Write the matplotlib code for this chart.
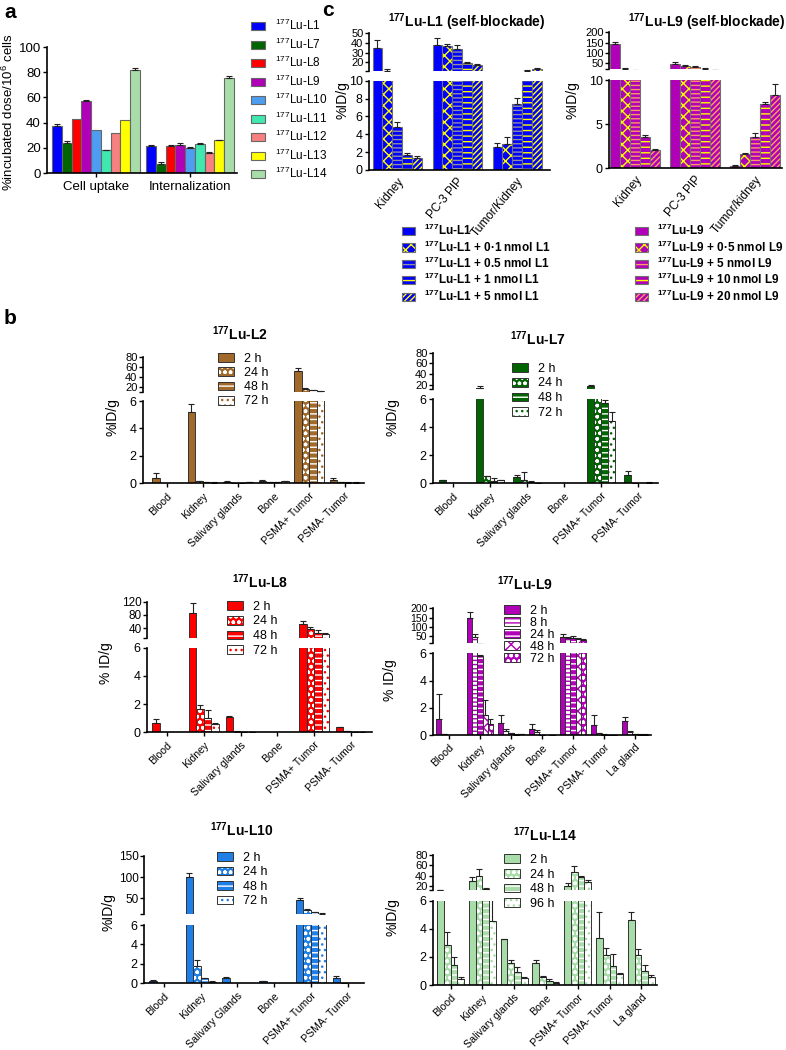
import numpy as np
import matplotlib
matplotlib.use('Agg')
import matplotlib.pyplot as plt
from matplotlib.patches import Patch

plt.rcParams['font.family'] = ['Liberation Sans', 'DejaVu Sans']
plt.rcParams['mathtext.fontset'] = 'custom'
plt.rcParams['mathtext.rm'] = 'Liberation Sans'
plt.rcParams['mathtext.bf'] = 'Liberation Sans:bold'
plt.rcParams['mathtext.default'] = 'regular'
plt.rcParams['hatch.linewidth'] = 1.0

# ---------------- data ----------------
# panel a: cell uptake / internalization
a_groups = ['Cell uptake', 'Internalization']
a_compounds = ['L1', 'L7', 'L8', 'L9', 'L10', 'L11', 'L12', 'L13', 'L14']
a_colors = ['#0000ff', '#006400', '#ff0000', '#b000b8', '#4d9ef0',
            '#40e8b0', '#f88080', '#ffff00', '#a8dca8']
a_uptake = [37, 24, 43, 57, 34, 18, 32, 42, 82]
a_uptake_err = [1.5, 1.5, 0, 1.2, 0, 0.5, 0, 0, 1.2]
a_intern = [21.5, 7, 21.5, 22, 20, 23, 16, 26, 75.5]
a_intern_err = [1, 1.5, 1, 2, 0.5, 1.2, 0.5, 0.5, 1.5]

# panel c: self-blockade
c1_cats = ['Kidney', 'PC-3 PIP', 'Tumor/Kidney']
c1_labels = ['$^{177}$Lu-L1', '$^{177}$Lu-L1 + 0·1 nmol L1', '$^{177}$Lu-L1 + 0.5 nmol L1',
             '$^{177}$Lu-L1 + 1 nmol L1', '$^{177}$Lu-L1 + 5 nmol L1']
c1_vals = [[35, 38, 2.6], [11.5, 37, 2.9], [4.8, 34, 7.4], [1.7, 19, 11.5], [1.3, 17, 13]]
c1_errs = [[8, 7, 0.45], [1.5, 2, 0.75], [0.6, 4, 0.7], [0.25, 1, 0.8], [0.25, 1, 1.5]]

c9_cats = ['Kidney', 'PC-3 PIP', 'Tumor/kidney']
c9_labels = ['$^{177}$Lu-L9', '$^{177}$Lu-L9 + 0·5 nmol L9', '$^{177}$Lu-L9 + 5 nmol L9',
             '$^{177}$Lu-L9 + 10 nmol L9', '$^{177}$Lu-L9 + 20 nmol L9']
c9_vals = [[145, 45, 0.3], [23, 37, 1.6], [15, 33, 3.5], [3.5, 24, 7.3], [2.1, 18, 8.3]]
c9_errs = [[10, 10, 0.05], [2, 4, 0.15], [1, 5, 0.5], [0.3, 2, 0.25], [0.1, 1, 1.2]]

# panel b: biodistribution
organs6 = ['Blood', 'Kidney', 'Salivary glands', 'Bone', 'PSMA+ Tumor', 'PSMA- Tumor']
organs6_cap = ['Blood', 'Kidney', 'Salivary Glands', 'Bone', 'PSMA+ Tumor', 'PSMA- Tumor']
organs7 = organs6 + ['La gland']
times4 = ['2 h', '24 h', '48 h', '72 h']
times5 = ['2 h', '8 h', '24 h', '48 h', '72 h']
times4b = ['2 h', '24 h', '48 h', '96 h']

l2_vals = [[0.35, 5.2, 0.12, 0.2, 52, 0.25], [0, 0.15, 0.03, 0.1, 16, 0.08],
           [0, 0.08, 0.02, 0.1, 13, 0.05], [0, 0.05, 0.08, 0.15, 11, 0.05]]
l2_errs = [[0.4, 0.55, 0.03, 0.05, 7, 0.1], [0, 0.03, 0.01, 0.02, 2, 0.02],
           [0, 0.02, 0.01, 0.02, 1, 0.01], [0, 0.01, 0.02, 0.03, 1, 0.01]]

l7_vals = [[0.2, 15, 0.45, 0, 18.5, 0.6], [0, 0.5, 0.25, 0, 6.5, 0.03],
           [0, 0.15, 0.1, 0, 5.7, 0], [0, 0.2, 0.03, 0, 4.4, 0.05]]
l7_errs = [[0.05, 3, 0.15, 0, 1, 0.3], [0, 0.05, 0.55, 0, 0, 0.01],
           [0, 0.2, 0.05, 0, 0.25, 0], [0, 0.05, 0.02, 0, 0.65, 0.04]]

l8_vals = [[0.65, 85, 1.08, 0, 52, 0.35], [0, 1.65, 0.05, 0, 38, 0.08],
           [0, 1.0, 0.03, 0, 25, 0.03], [0, 0.6, 0.03, 0, 21, 0.03]]
l8_errs = [[0.3, 30, 0.08, 0, 8, 0.05], [0, 0.3, 0.01, 0, 6, 0.02],
           [0, 0.6, 0.01, 0, 8, 0.01], [0, 0.05, 0.01, 0, 3, 0.01]]

l9_vals = [[1.2, 148, 0.85, 0.45, 45, 0.7, 1.0], [0.05, 45, 0.3, 0.22, 38, 0.12, 0.25],
           [0, 5.8, 0.12, 0.02, 42, 0.03, 0.08], [0, 1.5, 0.03, 0, 35, 0.02, 0.03],
           [0, 0.8, 0.07, 0.02, 28, 0.02, 0.03]]
l9_errs = [[1.8, 30, 0.65, 0.35, 15, 0.8, 0.3], [0.01, 18, 0.15, 0.15, 8, 0.02, 0.05],
           [0, 0.1, 0.05, 0.01, 8, 0.01, 0.02], [0, 1.05, 0.01, 0, 5, 0.01, 0.01],
           [0, 0.4, 0.03, 0.01, 6, 0.01, 0.01]]

l10_vals = [[0.28, 100, 0.55, 0.22, 45, 0.5], [0, 1.75, 0, 0, 22, 0.03],
            [0, 0.5, 0, 0, 17, 0], [0, 0.15, 0, 0, 13.5, 0]]
l10_errs = [[0.05, 10, 0.05, 0.03, 5, 0.25], [0, 0.6, 0, 0, 3, 0.01],
            [0, 0.05, 0, 0, 2, 0], [0, 0.05, 0, 0, 1, 0]]

l14_vals = [[12.8, 30, 3.25, 1.55, 20, 3.35, 4.6], [2.85, 40, 1.55, 0.55, 48, 2.1, 2.1],
            [1.45, 14, 0.9, 0.3, 37, 1.35, 1.0], [0.45, 4.55, 0.5, 0.15, 27, 0.75, 0.6]]
l14_errs = [[0.3, 8, 0.05, 0.2, 5, 1.85, 0.6], [0.9, 12, 0.2, 0.1, 10, 0.5, 0.45],
            [0.55, 2, 0.35, 0.1, 3, 0.85, 0.4], [0.15, 3, 0.1, 0.03, 5, 0.1, 0.1]]

# ---------------- helpers ----------------
W, H = 786, 1050
fig = plt.figure(figsize=(W / 100, H / 100), dpi=100)


def px_axes(x0, x1, y0, y1):
    return fig.add_axes([x0 / W, 1 - y1 / H, (x1 - x0) / W, (y1 - y0) / H])


def style(ax, bottom=True):
    ax.spines['top'].set_visible(False)
    ax.spines['right'].set_visible(False)
    ax.spines['left'].set_linewidth(1.2)
    ax.spines['bottom'].set_linewidth(1.2)
    if not bottom:
        ax.spines['bottom'].set_visible(False)
        ax.tick_params(axis='x', bottom=False, labelbottom=False)
    ax.tick_params(direction='out', length=3, width=1, pad=1.5)
    ax.patch.set_alpha(0)


def draw_bars(axs, x, h, w, face, hatch, hcol, edge='#333333', lw=0.7):
    for ax in axs:
        ax.bar(x, h, w, color=face, linewidth=0)
        if hatch:
            ax.bar(x, h, w, color='none', edgecolor=hcol, hatch=hatch, linewidth=0)
        ax.bar(x, h, w, color='none', edgecolor=edge, linewidth=lw)


def draw_err(axs, x, h, e, col='#222222'):
    x, h, e = np.asarray(x, float), np.asarray(h, float), np.asarray(e, float)
    m = e > 0
    for ax in axs:
        ax.errorbar(x[m], h[m], yerr=[np.zeros(m.sum()), e[m]], fmt='none',
                    ecolor=col, elinewidth=0.8, capsize=2, capthick=0.8)


def handle(face, hatch, hcol, edge='#333333', lw=0.7):
    parts = [Patch(facecolor=face, linewidth=0)]
    if hatch:
        parts.append(Patch(facecolor='none', edgecolor=hcol, hatch=hatch, linewidth=0))
    parts.append(Patch(facecolor='none', edgecolor=edge, linewidth=lw))
    return tuple(parts)


def fig_legend(handles, labels, x, y, fs, spacing, hl=1.2, bold=False):
    rowh = fs * 100 / 72
    fig.legend(handles, labels, loc='upper left',
               bbox_to_anchor=(x / W, 1 - (y - rowh / 2 - 1) / H),
               frameon=False, handlelength=hl, handleheight=0.7,
               labelspacing=spacing, handletextpad=0.8,
               borderpad=0, borderaxespad=0,
               prop={'size': fs, 'weight': 'bold' if bold else 'normal'})


def ftext(x, y, s, **kw):
    fig.text(x / W, 1 - y / H, s, **kw)


# ---------------- panel a ----------------
ax = px_axes(47, 237, 47, 173)
style(ax)
sp = 94.0
bw = 9.7 / sp
xg = np.arange(len(a_groups))
n = len(a_compounds)
for i in range(n):
    xs = xg + (i - (n - 1) / 2) * bw
    hs = [a_uptake[i], a_intern[i]]
    es = [a_uptake_err[i], a_intern_err[i]]
    draw_bars([ax], xs, hs, bw, a_colors[i], None, None, edge='#666666', lw=0.8)
    draw_err([ax], xs, hs, es)
ax.set_xlim((47 - 96) / sp, (237 - 96) / sp)
ax.set_ylim(0, 100)
ax.set_yticks([0, 20, 40, 60, 80, 100])
ax.set_xticks(xg)
ax.set_xticklabels(a_groups, fontsize=9.5)
ax.tick_params(axis='y', labelsize=9.5)
ax.tick_params(axis='x', pad=3)
ftext(8, 112, '%incubated dose/10$^6$ cells', rotation=90, ha='center', va='center', fontsize=9.5)
a_handles = [handle(c, None, None, edge='#666666', lw=0.8) for c in a_colors]
fig_legend(a_handles, ['$^{177}$Lu-' + c for c in a_compounds], 251, 25, 8.5, 0.28, hl=1.2)

# ---------------- panel c ----------------
c1_styles = [('#0000ff', None, None), ('#0000ff', 'xxx', '#ffff00'),
             ('#0000ff', '----', '#9090a0'), ('#0000ff', '---', '#ffff00'),
             ('#0000ff', '//////', '#ffff00')]
c9_styles = [('#b000b8', None, None), ('#b000b8', 'xxx', '#ffff00'),
             ('#b000b8', '----', '#ff9966'), ('#b000b8', '---', '#ffff00'),
             ('#b000b8', '//////', '#ffa060')]


def self_block(cats, vals, errs, styles, labels, g):
    axt = px_axes(g['x0'], g['x1'], g['yt0'], g['yt1'])
    axb = px_axes(g['x0'], g['x1'], g['yb0'], g['yb1'])
    style(axt, bottom=False)
    style(axb)
    sp = g['sp']
    bw = g['gw'] / len(vals) / sp
    xg = np.arange(len(cats))
    for i, (v, e, st) in enumerate(zip(vals, errs, styles)):
        xs = xg + (i - (len(vals) - 1) / 2) * bw
        draw_bars([axt, axb], xs, v, bw, st[0], st[1], st[2], edge='#707070', lw=0.8)
        draw_err([axt, axb], xs, v, e)
    for a in (axt, axb):
        a.set_xlim((g['x0'] - g['c0']) / sp, (g['x1'] - g['c0']) / sp)
    axt.set_ylim(*g['top'])
    axt.set_yticks([g['top'][0]] + g['tticks'])
    axt.set_yticklabels([''] + [str(t) for t in g['tticks']])
    axb.set_ylim(0, g['bmax'])
    axb.set_yticks(g['bticks'])
    axt.tick_params(axis='y', labelsize=8, pad=1)
    axb.tick_params(axis='y', labelsize=9)
    axb.set_xticks(xg)
    axb.set_xticklabels(cats, rotation=50, ha='right', rotation_mode='anchor', fontsize=8.5)
    axb.tick_params(axis='x', length=0, pad=4)
    hs = [handle(st[0], st[1], st[2], edge='#707070', lw=0.8) for st in styles]
    fig_legend(hs, labels, g['lx'], g['ly'], 8.5, 0.1, hl=1.1, bold=True)


self_block(c1_cats, c1_vals, c1_errs, c1_styles, c1_labels,
           dict(x0=369, x1=550, yt0=33.3, yt1=71, yb0=80.7, yb1=170, c0=397, sp=60, gw=49,
                top=(11, 50), tticks=[20, 30, 40, 50], bmax=10, bticks=[0, 2, 4, 6, 8, 10],
                lx=402, ly=230))
self_block(c9_cats, c9_vals, c9_errs, c9_styles, c9_labels,
           dict(x0=609, x1=782, yt0=32.3, yt1=69.3, yb0=80, yb1=168.3, c0=635, sp=60, gw=50,
                top=(21, 200), tticks=[50, 100, 150, 200], bmax=10, bticks=[0, 5, 10],
                lx=635, ly=230))
ftext(467, 22, r'$^{\mathbf{177}}$Lu-L1 (self-blockade)', ha='center', va='center',
      fontsize=10, fontweight='bold')
ftext(707, 22, r'$^{\mathbf{177}}$Lu-L9 (self-blockade)', ha='center', va='center',
      fontsize=10, fontweight='bold')
ftext(342, 100, '%ID/g', rotation=90, ha='center', va='center', fontsize=10)
ftext(573, 100, '%ID/g', rotation=90, ha='center', va='center', fontsize=10)

# ---------------- panel b ----------------


def styles4(c):
    return [(c, None, None), (c, 'ooo', 'white'), (c, '---', 'white'), ('white', '...', c)]


def styles5(c):
    return [(c, None, None), ('white', '----', c), (c, '---', 'white'),
            ('white', 'xxx', c), (c, 'ooo', 'white')]


def biodist(title, cats, times, vals, errs, styles, g):
    axt = px_axes(g['x0'], g['x1'], g['yt0'], g['yt1'])
    axb = px_axes(g['x0'], g['x1'], g['yb0'], g['yb1'])
    style(axt, bottom=False)
    style(axb)
    sp = g['sp']
    bw = g['gw'] / len(vals) / sp
    xg = np.arange(len(cats))
    for i, (v, e, st) in enumerate(zip(vals, errs, styles)):
        xs = xg + (i - (len(vals) - 1) / 2) * bw
        draw_bars([axt, axb], xs, v, bw, st[0], st[1], st[2])
        draw_err([axt, axb], xs, v, e)
    for a in (axt, axb):
        a.set_xlim((g['x0'] - g['c0']) / sp, (g['x1'] - g['c0']) / sp)
    axb.tick_params(axis='y', labelsize=9)
    axt.tick_params(axis='y', labelsize=g.get('tfs', 8.5), pad=1)
    axt.set_ylim(*g['top'])
    axt.set_yticks([g['top'][0]] + g['tticks'])
    axt.set_yticklabels([''] + [str(t) for t in g['tticks']])
    axb.set_ylim(0, 6)
    axb.set_yticks([0, 2, 4, 6])
    axb.set_xticks(xg)
    axb.set_xticklabels(cats, rotation=45, ha='right', rotation_mode='anchor', fontsize=7.6)
    axb.tick_params(axis='x', pad=2.5)
    ftext(g['tx'], g['ty'], title, ha='center', va='center', fontsize=10, fontweight='bold')
    ftext(g['ylx'], g['yly'], g['ylab'], rotation=90, ha='center', va='center', fontsize=10)
    hs = [handle(*st) for st in styles]
    fig_legend(hs, times, g['lx'], g['ly'], 9, g['lsp'], hl=1.3)


biodist(r'$^{\mathbf{177}}$Lu-L2', organs6, times4, l2_vals, l2_errs, styles4('#a26a2a'),
        dict(x0=143, x1=364, yt0=357.3, yt1=392, yb0=401, yb1=483.3, c0=167, sp=35.5, gw=30,
             top=(9, 80), tticks=[20, 40, 60, 80], tfs=8, tx=240, ty=334, ylx=113, yly=417,
             ylab='%ID/g', lx=218, ly=360, lsp=0.18))
biodist(r'$^{\mathbf{177}}$Lu-L7', organs6, times4, l7_vals, l7_errs, styles4('#006400'),
        dict(x0=433, x1=658, yt0=352.7, yt1=389.3, yb0=399, yb1=483.3, c0=453, sp=37, gw=28,
             top=(12, 80), tticks=[20, 40, 60, 80], tfs=8, tx=538, ty=339, ylx=392, yly=417,
             ylab='%ID/g', lx=512, ly=370, lsp=0.22))
biodist(r'$^{\mathbf{177}}$Lu-L8', organs6, times4, l8_vals, l8_errs, styles4('#ff0000'),
        dict(x0=147, x1=372, yt0=601.7, yt1=637.7, yb0=647.7, yb1=732.3, c0=167, sp=36.8, gw=30,
             top=(10.5, 120), tticks=[40, 80, 120], tx=260, ty=582, ylx=106, yly=663,
             ylab='% ID/g', lx=227, ly=608, lsp=0.22))
biodist(r'$^{\mathbf{177}}$Lu-L9', organs7, times5, l9_vals, l9_errs, styles5('#b000b8'),
        dict(x0=433, x1=651, yt0=608.3, yt1=642.7, yb0=653.3, yb1=735, c0=449, sp=31, gw=26,
             top=(14, 200), tticks=[50, 100, 150, 200], tfs=7.5, tx=525, ty=584, ylx=390, yly=680,
             ylab='% ID/g', lx=504, ly=612, lsp=0.0))
biodist(r'$^{\mathbf{177}}$Lu-L10', organs6_cap, times4, l10_vals, l10_errs, styles4('#1f7fe6'),
        dict(x0=144, x1=364, yt0=855.7, yt1=914.3, yb0=925, yb1=983.3, c0=164, sp=36.7, gw=30,
             top=(12.5, 150), tticks=[50, 100, 150], tx=242, ty=830, ylx=108, yly=912,
             ylab='%ID/g', lx=217, ly=859, lsp=0.2))
biodist(r'$^{\mathbf{177}}$Lu-L14', organs7, times4b, l14_vals, l14_errs, styles4('#a8dca8'),
        dict(x0=433, x1=657, yt0=855, yt1=890, yb0=900.7, yb1=985, c0=450.5, sp=31.8, gw=27,
             top=(12.3, 80), tticks=[20, 40, 60, 80], tfs=8, tx=545, ty=835, ylx=392, yly=917,
             ylab='%ID/g', lx=504, ly=861, lsp=0.22))

# panel letters
ftext(4, 12, 'a', fontsize=15, fontweight='bold', va='center')
ftext(322, 10, 'c', fontsize=15, fontweight='bold', va='center')
ftext(4, 318, 'b', fontsize=15, fontweight='bold', va='center')

fig.savefig('out.png', dpi=100)
